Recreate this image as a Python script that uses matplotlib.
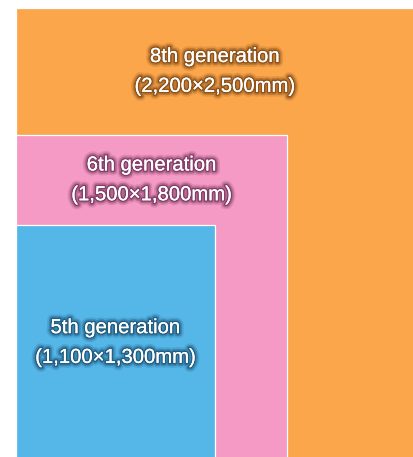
import matplotlib.pyplot as plt
import matplotlib.patches as patches
import matplotlib.patheffects as pe

# ガラス基板の世代とサイズ (mm)
generations = ["8th generation", "6th generation", "5th generation"]
widths = [2200, 1500, 1100]
heights = [2500, 1800, 1300]
colors = ["#FBA64B", "#F49AC4", "#55B7E8"]
glow_colors = ["#6a3608", "#5e1f48", "#103f62"]

fig = plt.figure(figsize=(4.13, 4.57), dpi=100)
ax = fig.add_axes([0, 0, 1, 1])
ax.set_xlim(-88.5, 2197)
ax.set_ylim(16.6, 2545)
ax.axis("off")

for i in range(len(generations)):
    w = widths[i]
    h = heights[i]
    rect = patches.Rectangle((0, 0), w, h, facecolor=colors[i],
                             edgecolor="white", linewidth=0.9, zorder=i + 1)
    ax.add_patch(rect)

    # 見えている帯の中央にラベルを置く
    if i + 1 < len(heights):
        y_low = heights[i + 1]
    else:
        y_low = 0
    ty = (h + y_low) / 2
    label = "%s\n(%s×%smm)" % (generations[i], format(w, ","), format(h, ","))
    ax.text(w / 2, ty, label, ha="center", va="center", color="white",
            fontsize=14.6, family="Liberation Sans", linespacing=1.72,
            zorder=10,
            path_effects=[pe.withStroke(linewidth=7, foreground=glow_colors[i], alpha=0.15),
                          pe.withStroke(linewidth=4.5, foreground=glow_colors[i], alpha=0.3),
                          pe.withStroke(linewidth=2.2, foreground=glow_colors[i], alpha=0.55),
                          pe.Normal()])

fig.savefig("out.png", dpi=100)
